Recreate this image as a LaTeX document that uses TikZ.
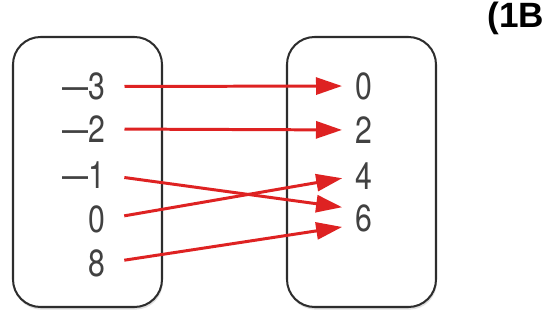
\documentclass[tikz,border=0pt]{standalone}
\usepackage{fontspec}
\setsansfont[FakeStretch=0.8]{TeX Gyre Heros}
\newfontfamily\tagfont{Liberation Sans}
\usetikzlibrary{positioning}
\usetikzlibrary{arrows.meta}
\usetikzlibrary{shadows}
\definecolor{mapred}{RGB}{222,34,34}
\definecolor{boxgray}{RGB}{45,45,45}
\definecolor{numgray}{RGB}{65,65,65}
\newcommand{\negdash}{\scalebox{1.55}[1]{–}}

\begin{document}
\begin{tikzpicture}[setBox/.style={draw=boxgray, line width=1.15pt, rounded corners=0.55cm, fill=white, minimum width=2.98cm, minimum height=5.4cm, drop shadow={opacity=0.25, shadow xshift=0.5pt, shadow yshift=-1.5pt}},
				num/.style={inner sep=0pt, text=numgray, font=\sffamily\fontsize{21.5}{22}\selectfont},
				mapArrow/.style={draw=mapred, line width=1.7pt, -{Triangle[length=0.52cm, width=0.34cm]}, shorten <=0.37cm, shorten >=0.26cm}]
					\useasboundingbox (0,0) rectangle (11,-6.44);
					\node[setBox] (domain) at (1.75,-3.44) {};
					\node[setBox] (range) at (7.23,-3.44) {};
					% left column
					\node[num, anchor=east] (m3) at (2.12,-1.73) {\negdash3};
					\node[num, anchor=east] (m2) at (2.12,-2.58) {\negdash2};
					\node[num, anchor=east] (m1) at (2.12,-3.50) {\negdash1};
					\node[num, anchor=east] (z) at (2.12,-4.38) {0};
					\node[num, anchor=east] (e) at (2.12,-5.26) {8};
					% right column
					\node[num, anchor=west] (p0) at (7.10,-1.72) {0};
					\node[num, anchor=west] (p2) at (7.10,-2.60) {2};
					\node[num, anchor=west] (p4) at (7.10,-3.52) {4};
					\node[num, anchor=west] (p6) at (7.10,-4.36) {6};
					\draw[mapArrow] (m3.east) -- (p0.west);
					\draw[mapArrow] (m2.east) -- (p2.west);
					\draw[mapArrow] (m1.east) -- ([yshift=0.18cm]p6.west);
					\draw[mapArrow] (z.east) -- (p4.west);
					\draw[mapArrow] (e.east) -- ([yshift=-0.14cm]p6.west);
					\node[anchor=base west, inner sep=0pt, text=black, font=\tagfont\bfseries\fontsize{20}{21}\selectfont] (tag) at (9.74,-0.56) {(1B};
				\end{tikzpicture}
\end{document}
